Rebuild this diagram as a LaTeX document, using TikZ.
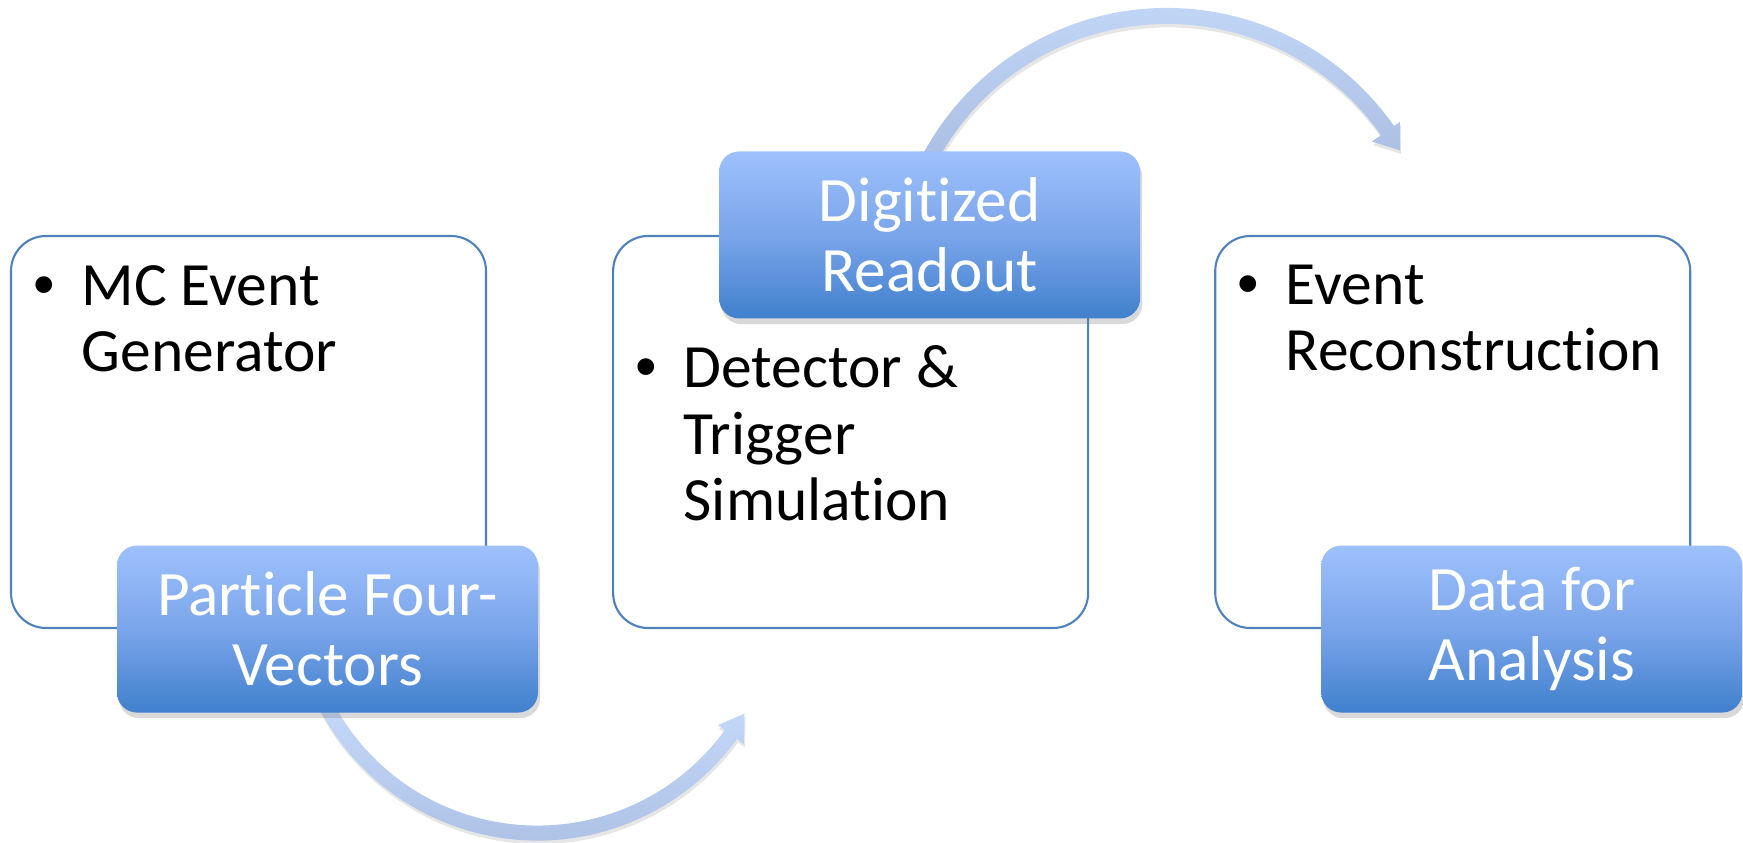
\documentclass[tikz,border=0pt]{standalone}
\usepackage{fontspec}
\setmainfont{Carlito}[Ligatures={NoCommon}]
\newfontfamily\bulletfont{Liberation Sans}
\usetikzlibrary{positioning,calc,shadows,backgrounds}

\definecolor{frameblue}{RGB}{79,129,189}
\definecolor{tagtop}{RGB}{158,193,252}
\definecolor{tagmid}{RGB}{122,165,234}
\definecolor{tagbot}{RGB}{64,128,205}
\definecolor{arrtop}{RGB}{198,218,251}
\definecolor{arrbot}{RGB}{169,189,226}

\newcommand{\bul}{\llap{{\bulletfont\textbullet}\hspace{7.5pt}}}

\begin{document}
\begin{tikzpicture}[x=0.1mm, y=0.1mm,
	every node/.style={inner sep=0pt,
                       font=\fontsize{17.5}{19}\selectfont
                       },
	panel/.style={draw=frameblue, line width=0.6pt, fill=white,
                  rounded corners=3.5mm,
                  minimum width=47.5mm, minimum height=39.2mm
    },
	item/.style={anchor=base west, align=left},
	tag/.style={rounded corners=2mm, text=white, align=center,
                minimum width=42.1mm, minimum height=16.7mm,
                top color=tagtop, bottom color=tagbot, middle color=tagmid,
                font=\fontsize{18}{20}\selectfont,
                drop shadow={opacity=0.3, shadow xshift=0.6pt, shadow yshift=-1.6pt}
    },
	flow/.style={top color=arrtop, bottom color=arrbot,
                 drop shadow={opacity=0.2, shadow xshift=0.3pt, shadow yshift=-1pt}
    }
]
	\useasboundingbox (0,0) rectangle (1743,842);
	\node (gen) [panel] at (248.5,410) {};
    \node (sim) [panel, right = 12.5mm of gen] {};
    \node (reco) [panel, right = 12.5mm of sim] {};
    % base anchor sits on the last line
    \node (gentext) [item] at ($(gen.north west)+(71,-137)$) {\bul MC Event\\Generator};
    \node (simtext) [item] at ($(sim.north west)+(71,-286)$) {\bul Detector \&\\Trigger\\Simulation};
    \node (recotext) [item] at ($(reco.north west)+(71,-136)$) {\bul Event\\Reconstruction};
    \node (vec) [tag] at ($(gen.south)+(79,0)$) {Particle Four-\\Vectors};
    \node (digi) [tag] at ($(sim.north)+(79,0)$) {Digitized\\Readout};
    \node (ana) [tag] at ($(reco.south)+(79,0)$) {Data for\\Analysis};
    \coordinate (arcA) at ($(vec.center)+(210,35)$);
    \coordinate (arcB) at ($(digi.center)+(237.5,-50)$);
    \begin{scope}[on background layer]
    \shade[flow] ($(arcA)+(205:24.65mm)$) arc[start angle=205, end angle=324, radius=24.65mm]
        -- ($(arcA)+(324:25.5mm)$) -- ($(arcA)+(330:23.9mm)$) -- ($(arcA)+(324:22.3mm)$)
        -- ($(arcA)+(324:23.15mm)$) arc[start angle=324, end angle=205, radius=23.15mm] -- cycle;
    \shade[flow] ($(arcB)+(155:26.1mm)$) arc[start angle=155, end angle=35, radius=26.1mm]
        -- ($(arcB)+(35:25mm)$) -- ($(arcB)+(30:26.9mm)$) -- ($(arcB)+(35:28.4mm)$)
        -- ($(arcB)+(35:27.7mm)$) arc[start angle=35, end angle=155, radius=27.7mm] -- cycle;
    \end{scope}
\end{tikzpicture}
\end{document}
